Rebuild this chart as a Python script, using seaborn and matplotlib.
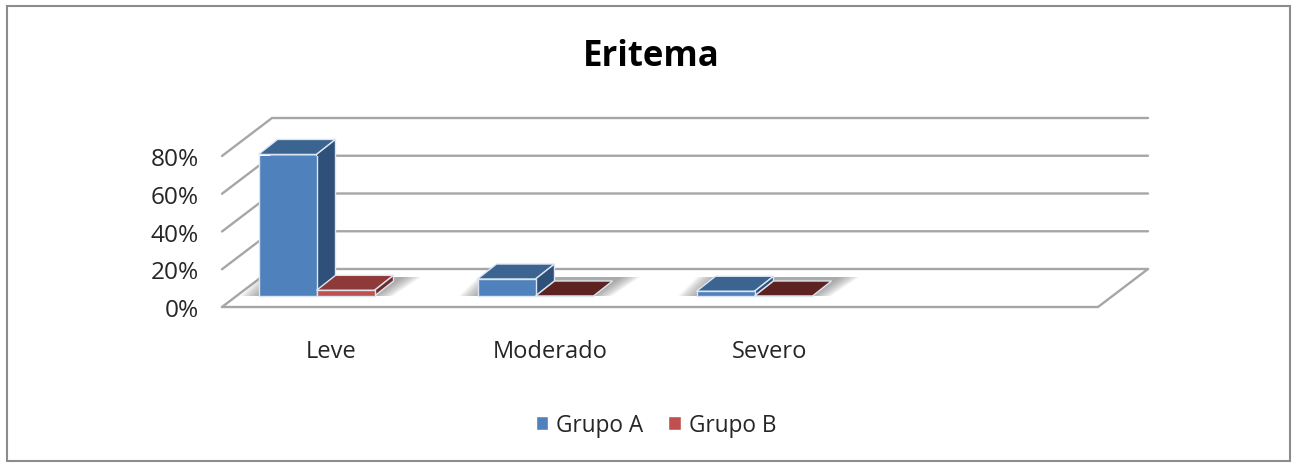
import matplotlib
matplotlib.use("Agg")
import matplotlib.pyplot as plt
from matplotlib.patches import Polygon, Rectangle
from matplotlib.ticker import PercentFormatter
import numpy as np
import pandas as pd
import seaborn as sns

categories = ["Leve", "Moderado", "Severo"]
slots = categories + [""]
grupo_a = [75, 9, 2.5]
grupo_b = [3, 0, 0]
y_ticks = [0, 20, 40, 60, 80]

df = pd.DataFrame({
    "cat": categories * 2,
    "grupo": ["Grupo A"] * 3 + ["Grupo B"] * 3,
    "valor": grupo_a + grupo_b,
})

W, H = 1297, 464
sns.set_theme(style="white")
plt.rcParams["font.family"] = ["Open Sans", "DejaVu Sans"]

fig = plt.figure(figsize=(W / 100, H / 100), dpi=100, facecolor="white")
ax = fig.add_axes([222 / W, 1 - 308 / H, 876 / W, 151 / H])
ax.patch.set_alpha(0)

sns.barplot(data=df, x="cat", y="valor", hue="grupo", order=slots, saturation=1,
            palette=["#4F81BD", "#C0504D"], width=116 / 219, gap=0, ax=ax, zorder=5)

ax.set_xlim(-0.5, 3.5)
ax.set_ylim(0, 80)
sns.despine(ax=ax, left=True, bottom=True)

# pixel sizes of the fake 3d, turned into data units
px_x = 4 / 876
px_y = 80 / 151
wall_dx, wall_dy = 50 * px_x, 38 * px_y
box_dx, box_dy = 19 * px_x, 15 * px_y
shift_x, lift_y = -15 * px_x, 11 * px_y

grid_c = "#A6A6A6"
x0, x1 = ax.get_xlim()
for v in y_ticks:
    ax.plot([x0, x0 + wall_dx, x1 + wall_dx], [v, v + wall_dy, v + wall_dy],
            color=grid_c, lw=1.7, clip_on=False, zorder=1, solid_joinstyle="miter")
ax.plot([x0, x1, x1 + wall_dx], [0, 0, wall_dy], color=grid_c, lw=1.7, clip_on=False, zorder=1)

tops = ["#3B6491", "#8E3A38"]
sides = ["#2F5079", "#6E2A29"]
flat = ["#3B6491", "#5E2320"]
edge = "#DCE6F2"

for i, cont in enumerate(ax.containers):
    for bar in cont:
        h = bar.get_height()
        if not np.isfinite(h):
            continue
        bar.set_x(bar.get_x() + shift_x)
        bar.set_y(lift_y)
        bar.set_edgecolor(edge)
        bar.set_linewidth(1.0)
        l, r = bar.get_x(), bar.get_x() + bar.get_width()
        b, t = lift_y, lift_y + h
        z = 5 + i
        bar.set_zorder(z + 0.2)
        top_c = tops[i] if h > 0 else flat[i]
        ax.add_patch(Polygon([(l, t), (r, t), (r + box_dx, t + box_dy), (l + box_dx, t + box_dy)],
                             fc=top_c, ec=edge, lw=1.0, zorder=z, clip_on=False))
        if h > 0:
            ax.add_patch(Polygon([(r, b), (r, t), (r + box_dx, t + box_dy), (r + box_dx, b + box_dy)],
                                 fc=sides[i], ec=edge, lw=1.0, zorder=z + 0.1, clip_on=False))

# soft shadow on the floor, under each pair of bars
pairs = zip(ax.containers[0], ax.containers[1])
for a, b in pairs:
    if not np.isfinite(a.get_height()):
        continue
    left, right = a.get_x(), b.get_x() + b.get_width()
    for k in range(10):
        grow = (9 - k) * 2 * px_x
        ax.add_patch(Polygon([(left - grow, lift_y),
                              (right + grow, lift_y),
                              (right + box_dx + box_dx / 2 + grow, lift_y + 19 * px_y),
                              (left + box_dx - grow, lift_y + 19 * px_y)],
                             fc="#707070", ec="none", alpha=0.08, zorder=2, clip_on=False))

ax.set_xlabel("")
ax.set_ylabel("")
ax.set_yticks(y_ticks)
ax.yaxis.set_major_formatter(PercentFormatter(100, decimals=0))
ax.tick_params(axis="y", length=0, pad=16.5, labelsize=17.6, labelcolor="#262626")
ax.tick_params(axis="x", length=0, pad=23, labelsize=17, labelcolor="#262626")

sns.move_legend(ax, "center", bbox_to_anchor=(656 / W, 1 - 426 / H), bbox_transform=fig.transFigure,
                ncol=2, title=None, frameon=False, fontsize=16.3, handlelength=0.55, handleheight=0.55,
                handletextpad=0.36, columnspacing=1.1, labelcolor="#262626")

fig.text(651.5 / W, 1 - 57 / H, "Eritema", ha="center", va="center", fontsize=25, fontweight="bold", color="black")
fig.add_artist(Rectangle((7 / W, 1 - 462 / H), 1283 / W, 455 / H, transform=fig.transFigure,
                         fill=False, ec="#8C8C8C", lw=1.5))

fig.savefig("out.png", dpi=100)
